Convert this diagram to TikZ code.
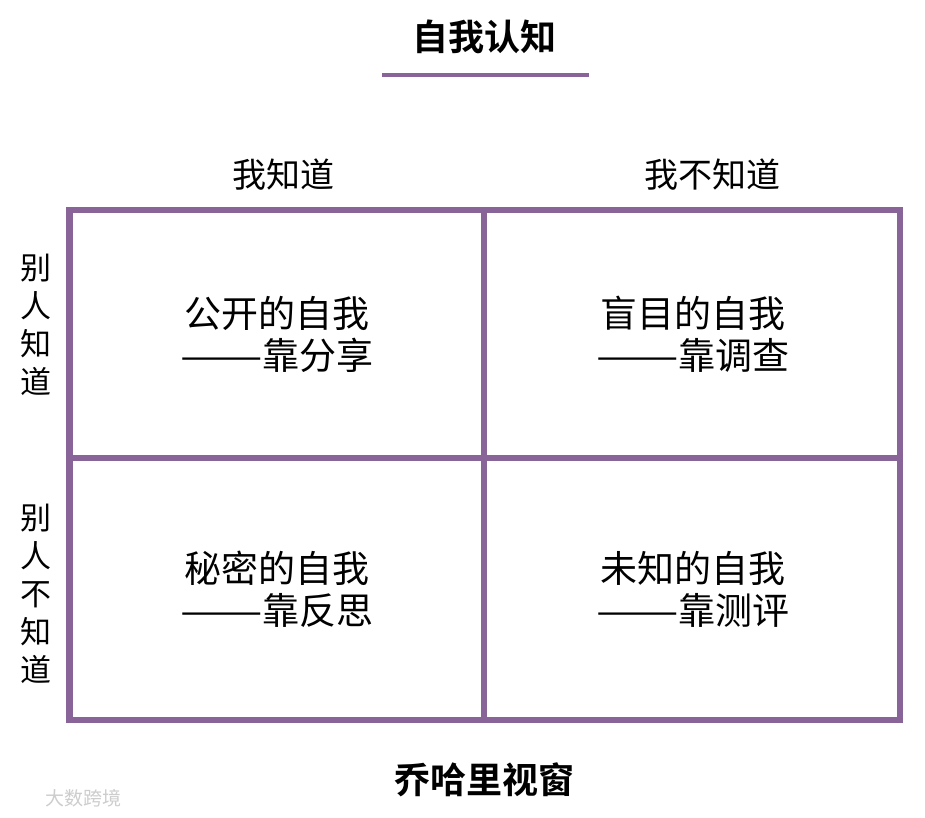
\documentclass[tikz,border=0pt]{standalone}
\usepackage{fontspec}
\setmainfont{Noto Sans CJK SC}
\newfontfamily\cjkb{Noto Sans CJK SC Bold}
\definecolor{gridpurple}{RGB}{137,100,152}
\definecolor{wmgray}{RGB}{205,205,205}
\newcommand{\wdash}{\scalebox{1.33}[1]{——}}
\begin{document}
\begin{tikzpicture}[x=1pt,y=-1pt,
  gridline/.style={draw=gridpurple,line width=6.5pt},
  titletext/.style={font=\cjkb\fontsize{36}{38}\selectfont,inner sep=0pt},
  headtext/.style={font=\fontsize{34}{36}\selectfont,inner sep=0pt},
  sidetext/.style={font=\fontsize{31}{38}\selectfont,inner sep=0pt,align=center},
  quadtext/.style={font=\fontsize{37}{42}\selectfont,inner sep=0pt,align=center},
  wmtext/.style={font=\fontsize{19}{20}\selectfont,text=wmgray,inner sep=0pt}]
\useasboundingbox (0,0) rectangle (925,817);
\fill[white] (0,0) rectangle (925,817);
% title
\node[titletext] (title) at (484,37) {自我认知};
\coordinate (ulA) at (382,75);
\coordinate (ulB) at (589,75);
\draw[draw=gridpurple,line width=4pt] (ulA) -- (ulB);
% grid
\coordinate (tl) at (69.5,210);
\coordinate (tr) at (900,210);
\coordinate (bl) at (69.5,720);
\coordinate (br) at (900,720);
\coordinate (tm) at (484,210);
\coordinate (bm) at (484,720);
\coordinate (lm) at (69.5,458);
\coordinate (rm) at (900,458);
\draw[gridline] (tl) rectangle (br);
\draw[gridline] (tm) -- (bm);
\draw[gridline] (lm) -- (rm);
% headers
\node[headtext] (h1) at (283,175) {我知道};
\node[headtext] (h2) at (712,175) {我不知道};
\node[sidetext] (s1) at (36,325) {别\\人\\知\\道};
\node[sidetext] (s2) at (36,594) {别\\人\\不\\知\\道};
% quadrants
\node[quadtext] (q1) at (277,334) {公开的自我\\\wdash 靠分享};
\node[quadtext] (q2) at (693,334) {盲目的自我\\\wdash 靠调查};
\node[quadtext] (q3) at (277,589) {秘密的自我\\\wdash 靠反思};
\node[quadtext] (q4) at (693,589) {未知的自我\\\wdash 靠测评};
% bottom title
\node[titletext] (bottom) at (484,780) {乔哈里视窗};
% watermark
\node[wmtext,anchor=west] (wm) at (45,798) {大数跨境};
\end{tikzpicture}
\end{document}
